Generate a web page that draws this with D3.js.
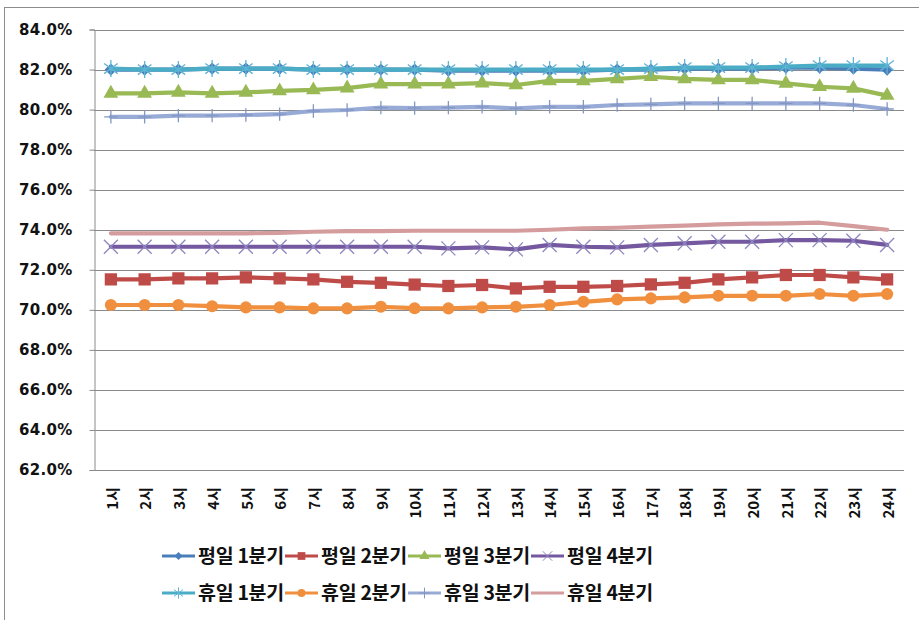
<!DOCTYPE html>
<html>
<head>
<meta charset="utf-8">
<script src="https://cdn.jsdelivr.net/npm/d3@7"></script>
<style>
  html, body { margin: 0; padding: 0; background: #fff; }
  svg { display: block; }
</style>
</head>
<body>
<svg id="chart" width="919" height="620"></svg>
<script>
// Hours of the day
const hours = ["1시","2시","3시","4시","5시","6시","7시","8시","9시","10시","11시","12시",
               "13시","14시","15시","16시","17시","18시","19시","20시","21시","22시","23시","24시"];

// Y axis ticks (percent)
const yTicks = [62, 64, 66, 68, 70, 72, 74, 76, 78, 80, 82, 84];

// Series names
const seriesNames = ["평일 1분기","평일 2분기","평일 3분기","평일 4분기",
                     "휴일 1분기","휴일 2분기","휴일 3분기","휴일 4분기"];

// Values per hour (%)
const weekdayQ1 = [82.0,82.0,82.0,82.05,82.05,82.05,82.0,82.0,82.0,82.0,81.95,81.95,
                   81.95,81.95,81.95,82.0,82.0,82.05,82.05,82.05,82.1,82.1,82.05,82.0];
const weekdayQ2 = [71.52,71.52,71.57,71.57,71.62,71.57,71.52,71.4,71.35,71.26,71.19,71.24,
                   71.07,71.15,71.15,71.19,71.27,71.35,71.52,71.62,71.74,71.74,71.62,71.52];
const weekdayQ3 = [80.81,80.81,80.86,80.81,80.86,80.93,80.98,81.07,81.27,81.27,81.27,81.32,
                   81.23,81.43,81.43,81.53,81.64,81.53,81.48,81.48,81.31,81.14,81.06,80.7];
const weekdayQ4 = [73.15,73.15,73.15,73.15,73.15,73.15,73.15,73.15,73.15,73.15,73.07,73.12,
                   73.02,73.24,73.15,73.12,73.24,73.32,73.4,73.4,73.48,73.48,73.45,73.24];
const holidayQ1 = [82.05,82.0,82.0,82.05,82.05,82.05,82.0,82.0,82.0,82.0,82.0,82.0,
                   82.0,82.0,82.0,82.0,82.05,82.1,82.1,82.1,82.15,82.2,82.2,82.2];
const holidayQ2 = [70.24,70.24,70.24,70.18,70.12,70.12,70.07,70.07,70.15,70.08,70.07,70.12,
                   70.15,70.24,70.4,70.52,70.57,70.62,70.7,70.7,70.7,70.79,70.7,70.79];
const holidayQ3 = [79.64,79.64,79.7,79.7,79.73,79.77,79.93,79.98,80.1,80.07,80.1,80.14,
                   80.06,80.14,80.14,80.23,80.26,80.31,80.31,80.31,80.31,80.31,80.23,80.03];
const holidayQ4 = [73.82,73.82,73.82,73.82,73.82,73.84,73.9,73.93,73.93,73.95,73.95,73.95,
                   73.95,74.0,74.07,74.1,74.15,74.2,74.27,74.3,74.32,74.35,74.18,74.0];

const seriesValues = [weekdayQ1, weekdayQ2, weekdayQ3, weekdayQ4,
                      holidayQ1, holidayQ2, holidayQ3, holidayQ4];

// Star marker: an X crossed by a vertical stroke
const symbolStar = {
  draw(context, size) {
    const r = Math.sqrt(size) * 0.6;
    const d = r * 0.8;
    context.moveTo(0, -r); context.lineTo(0, r);
    context.moveTo(-d, -d * 0.75); context.lineTo(d, d * 0.75);
    context.moveTo(-d, d * 0.75); context.lineTo(d, -d * 0.75);
  }
};

// Styling for each series: line colour, marker shape and marker colours
const styles = [
  { line: "#4A7EBB", marker: "diamond",  fill: "#4A7EBB", stroke: "none" },
  { line: "#BE4B48", marker: "square",   fill: "#BE4B48", stroke: "none" },
  { line: "#98B954", marker: "triangle", fill: "#98B954", stroke: "none" },
  { line: "#7458A0", marker: "times",    fill: "none",    stroke: "#8E86C0" },
  { line: "#4BACC6", marker: "star",     fill: "none",    stroke: "#5FB4D6" },
  { line: "#F08F3E", marker: "circle",   fill: "#F08F3E", stroke: "none" },
  { line: "#98ABD6", marker: "plus",     fill: "none",    stroke: "#8497C4" },
  { line: "#D49C9D", marker: "none",     fill: "none",    stroke: "none" }
];

const symbolTypes = {
  diamond: d3.symbolDiamond2,
  square: d3.symbolSquare,
  triangle: d3.symbolTriangle,
  times: d3.symbolTimes,
  star: symbolStar,
  circle: d3.symbolCircle,
  plus: d3.symbolPlus
};
const plotSizes   = { diamond: 95, square: 150, triangle: 95, times: 130, star: 200, circle: 115, plus: 60 };
const legendSizes = { diamond: 40, square: 60,  triangle: 45, times: 60,  star: 90,  circle: 50,  plus: 40 };

const svg = d3.select("#chart");

// Chart area frame
svg.append("rect")
  .attr("x", 4.5).attr("y", 7.5)
  .attr("width", 940).attr("height", 640)
  .attr("fill", "none").attr("stroke", "#8c8c8c").attr("stroke-width", 1);

const plot = { left: 94, right: 904, top: 29.5, bottom: 470 };

const x = d3.scalePoint().domain(hours).range([plot.left, plot.right]).padding(0.5);
const y = d3.scaleLinear().domain([62, 84]).range([plot.bottom, plot.top]);

// Horizontal gridlines
svg.append("g")
  .selectAll("line")
  .data(yTicks)
  .join("line")
  .attr("x1", plot.left).attr("x2", plot.right)
  .attr("y1", d => Math.round(y(d)) + 0.5).attr("y2", d => Math.round(y(d)) + 0.5)
  .attr("stroke", "#8a8a8a").attr("stroke-width", 1);

// Y axis
const yAxis = d3.axisLeft(y)
  .tickValues(yTicks)
  .tickSize(5)
  .tickPadding(17)
  .tickFormat(d => d3.format(".1f")(d) + "%");

const yG = svg.append("g")
  .attr("transform", `translate(${plot.left + 0.5},0)`)
  .call(yAxis);
yG.select(".domain").attr("stroke", "#8a8a8a");
yG.selectAll(".tick line").attr("stroke", "#8a8a8a");
yG.selectAll(".tick text")
  .attr("fill", "#111")
  .style("font-family", "'DejaVu Sans', Verdana, sans-serif")
  .style("font-weight", "bold")
  .style("font-size", "15px")
  .style("letter-spacing", "0.3px");

// X axis (labels rotated upward)
const xAxis = d3.axisBottom(x).tickSize(0).tickPadding(0);
const xG = svg.append("g")
  .attr("transform", `translate(0,${plot.bottom})`)
  .call(xAxis);
xG.select(".domain").remove();
xG.selectAll(".tick text")
  .attr("transform", "translate(1,17) rotate(-90)")
  .attr("x", 0).attr("y", 0)
  .attr("dy", "0.35em")
  .attr("text-anchor", "end")
  .attr("fill", "#111")
  .style("font-family", "'Noto Sans CJK KR', sans-serif")
  .style("font-weight", "bold")
  .style("font-size", "15px");

// Bottom axis line
svg.append("line")
  .attr("x1", plot.left).attr("x2", plot.right)
  .attr("y1", Math.round(y(62)) + 0.5).attr("y2", Math.round(y(62)) + 0.5)
  .attr("stroke", "#8a8a8a");

// Series lines and markers
const line = d3.line()
  .x((d, i) => x(hours[i]))
  .y(d => y(d));

const seriesG = svg.append("g");
seriesValues.forEach((vals, s) => {
  const st = styles[s];
  const g = seriesG.append("g");
  g.append("path")
    .datum(vals)
    .attr("d", line)
    .attr("fill", "none")
    .attr("stroke", st.line)
    .attr("stroke-width", 4.2)
    .attr("stroke-linejoin", "round")
    .attr("stroke-linecap", "round");
  if (st.marker !== "none") {
    const sym = d3.symbol().type(symbolTypes[st.marker]).size(plotSizes[st.marker]);
    g.selectAll("path.m")
      .data(vals)
      .join("path")
      .attr("class", "m")
      .attr("transform", (d, i) => `translate(${x(hours[i])},${y(d)})`)
      .attr("d", sym)
      .attr("fill", st.fill)
      .attr("stroke", st.stroke)
      .attr("stroke-width", st.stroke === "none" ? 0 : 1.3);
  }
});

// Legend: two rows of four entries
const legendX0 = 162, legendStep = 123, legendRows = [556, 593];
const legend = svg.append("g");
seriesNames.forEach((name, s) => {
  const st = styles[s];
  const lx = legendX0 + (s % 4) * legendStep;
  const ly = legendRows[Math.floor(s / 4)];
  const g = legend.append("g").attr("transform", `translate(${lx},${ly})`);
  g.append("line")
    .attr("x1", 0).attr("x2", 33).attr("y1", 0).attr("y2", 0)
    .attr("stroke", st.line).attr("stroke-width", 3);
  if (st.marker !== "none") {
    g.append("path")
      .attr("transform", "translate(16.5,0)")
      .attr("d", d3.symbol().type(symbolTypes[st.marker]).size(legendSizes[st.marker]))
      .attr("fill", st.fill)
      .attr("stroke", st.stroke)
      .attr("stroke-width", st.stroke === "none" ? 0 : 1);
  }
  g.append("text")
    .attr("x", 36).attr("y", 0)
    .attr("dy", "0.36em")
    .attr("fill", "#111")
    .style("font-family", "'Noto Sans CJK KR', sans-serif")
    .style("font-weight", "bold")
    .style("font-size", "19.5px")
    .style("letter-spacing", "-0.3px")
    .text(name);
});
</script>
</body>
</html>
